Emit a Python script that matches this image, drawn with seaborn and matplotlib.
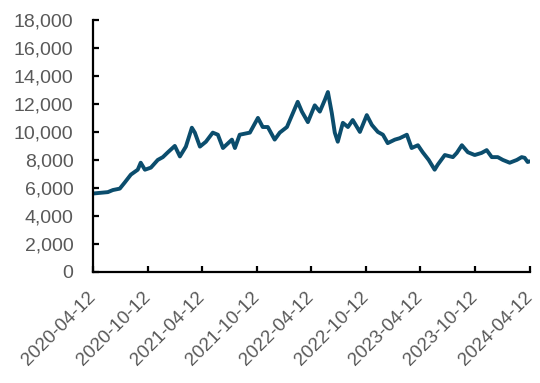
import matplotlib
matplotlib.use("Agg")
import matplotlib.pyplot as plt
import matplotlib.dates as mdates
from matplotlib.ticker import FuncFormatter, MultipleLocator
from matplotlib.transforms import ScaledTranslation
import numpy as np
import pandas as pd
import seaborn as sns

# Index level sampled over the period
dates = [
    "2020-04-12", "2020-06-01", "2020-06-18", "2020-07-11", "2020-07-28",
    "2020-08-17", "2020-09-09", "2020-09-19", "2020-10-03", "2020-10-23",
    "2020-11-15", "2020-12-02", "2020-12-19", "2021-01-11", "2021-01-28",
    "2021-02-17", "2021-03-09", "2021-03-19", "2021-04-05", "2021-04-25",
    "2021-05-18", "2021-06-04", "2021-06-21", "2021-07-21", "2021-07-31",
    "2021-08-16", "2021-09-19", "2021-10-16", "2021-11-01", "2021-11-18",
    "2021-12-11", "2021-12-28", "2022-01-21", "2022-02-10", "2022-02-26",
    "2022-03-12", "2022-04-01", "2022-04-24", "2022-05-11", "2022-05-28",
    "2022-06-07", "2022-06-20", "2022-06-30", "2022-07-10", "2022-07-27",
    "2022-08-13", "2022-08-29", "2022-09-22", "2022-10-15", "2022-11-01",
    "2022-11-21", "2022-12-08", "2022-12-24", "2023-01-17", "2023-02-02",
    "2023-02-26", "2023-03-14", "2023-04-04", "2023-04-20", "2023-05-10",
    "2023-05-30", "2023-06-09", "2023-07-03", "2023-07-30", "2023-08-12",
    "2023-08-29", "2023-09-18", "2023-10-11", "2023-11-03", "2023-11-20",
    "2023-12-07", "2023-12-27", "2024-01-13", "2024-02-05", "2024-02-29",
    "2024-03-16", "2024-03-26", "2024-04-05", "2024-04-12",
]
values = [
    5600, 5700, 5850, 5950, 6400,
    6950, 7300, 7800, 7300, 7450,
    8000, 8200, 8550, 9000, 8250,
    8950, 10300, 9950, 8950, 9300,
    9950, 9800, 8850, 9450, 8850,
    9800, 9950, 11000, 10350, 10350,
    9450, 9950, 10350, 11350, 12150,
    11450, 10700, 11900, 11450, 12300,
    12850, 11350, 9950, 9300, 10650,
    10350, 10850, 10000, 11200, 10500,
    10000, 9800, 9200, 9450, 9550,
    9800, 8850, 9050, 8550, 8000,
    7300, 7650, 8350, 8200, 8500,
    9050, 8550, 8350, 8500, 8700,
    8200, 8200, 8000, 7800, 8000,
    8200, 8150, 7850, 7900,
]

tick_dates = [
    "2020-04-12", "2020-10-12", "2021-04-12", "2021-10-12", "2022-04-12",
    "2022-10-12", "2023-04-12", "2023-10-12", "2024-04-12",
]

df = pd.DataFrame({"date": pd.to_datetime(dates), "value": values})

sns.set_theme(style="white")
plt.rcParams["font.family"] = ["Liberation Sans", "DejaVu Sans"]

fig = plt.figure(figsize=(5.4, 3.83), dpi=100)
ax = fig.add_axes([0.172, 0.290, 0.809, 0.658])

sns.lineplot(data=df, x="date", y="value", ax=ax, color="#0b4d6d",
             linewidth=2.8, solid_joinstyle="round", solid_capstyle="round")

ax.set_xlim(pd.Timestamp(tick_dates[0]), pd.Timestamp(tick_dates[-1]))
ax.set_ylim(0, 18000)
ax.yaxis.set_major_locator(MultipleLocator(2000))
ax.yaxis.set_major_formatter(FuncFormatter(lambda v, p: f"{int(v):,}"))
ax.set_xticks(pd.to_datetime(tick_dates))
ax.xaxis.set_major_formatter(mdates.DateFormatter("%Y-%m-%d"))

ax.set_xlabel("")
ax.set_ylabel("")
for side in ("top", "right"):
    ax.spines[side].set_visible(False)
for side in ("left", "bottom"):
    ax.spines[side].set_color("black")
    ax.spines[side].set_linewidth(1.6)

ax.tick_params(axis="both", direction="in", length=4, width=1.6,
               color="black", labelcolor="#595959", labelsize=14)
ax.tick_params(axis="y", pad=14, left=True)
ax.tick_params(axis="x", pad=12, bottom=True, labelsize=13.5)
shift = ScaledTranslation(-6 / 100, 0, fig.dpi_scale_trans)
for lab in ax.get_xticklabels():
    lab.set_rotation(45)
    lab.set_ha("right")
    lab.set_va("top")
    lab.set_rotation_mode("anchor")
    lab.set_transform(lab.get_transform() + shift)

fig.savefig("out.png", dpi=100)
